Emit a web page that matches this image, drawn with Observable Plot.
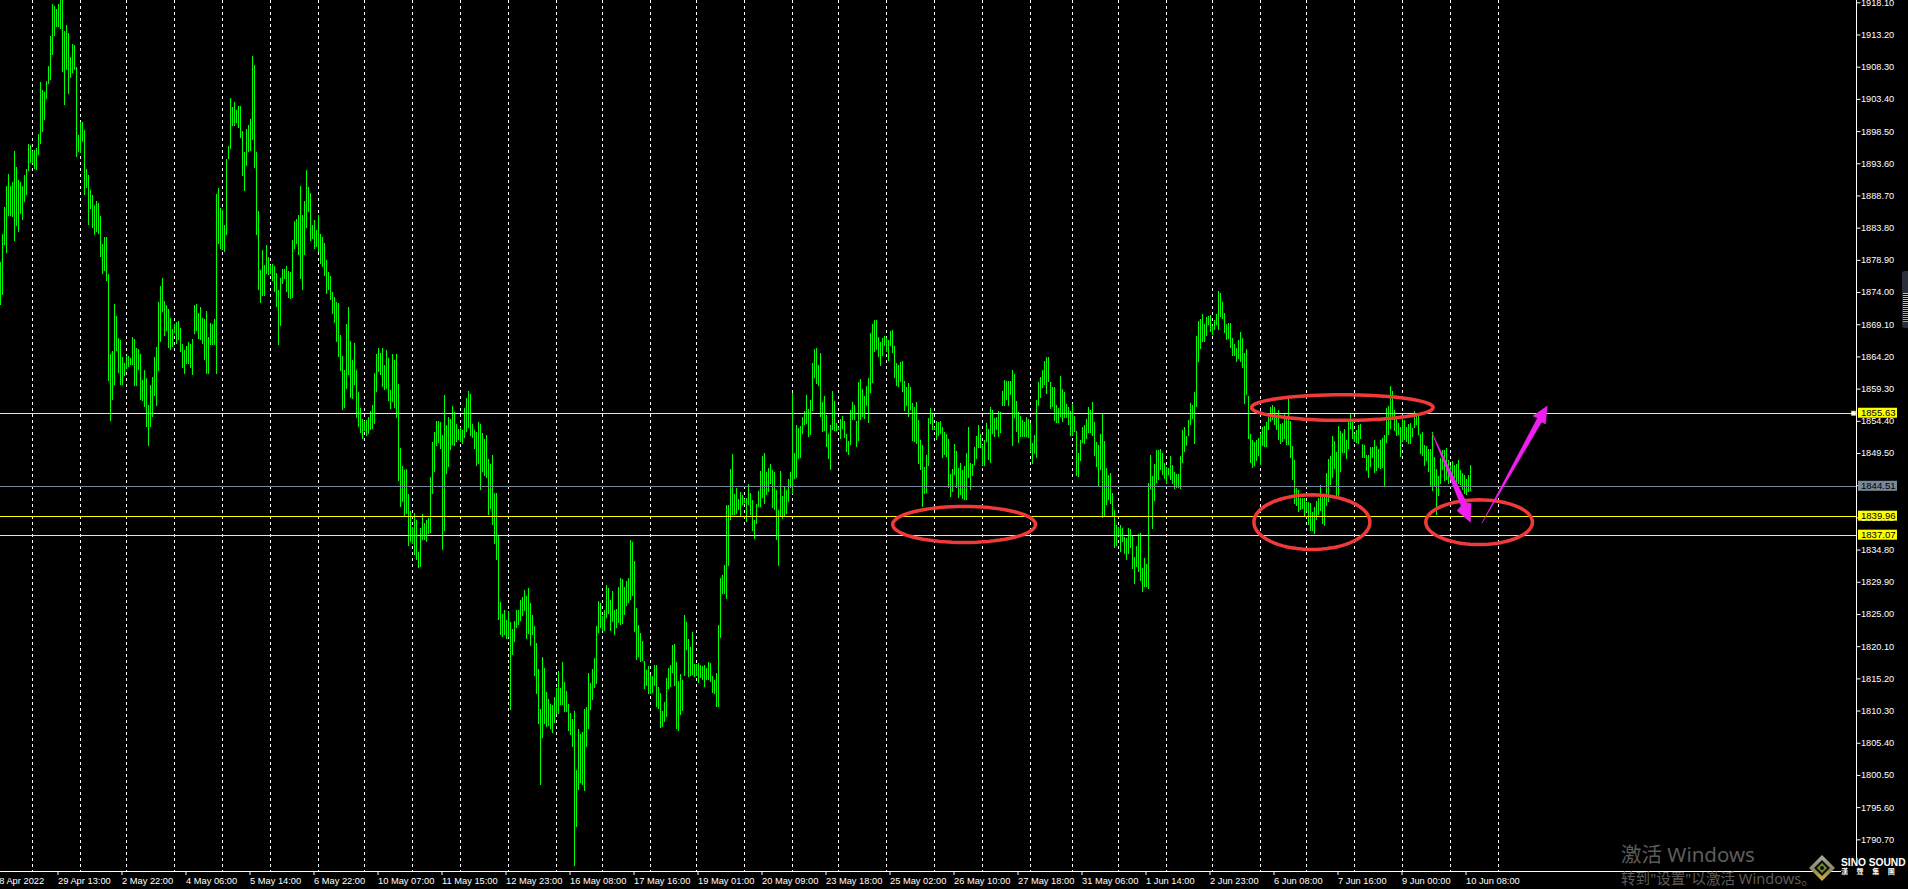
<!DOCTYPE html>
<html><head><meta charset="utf-8">
<script src="https://cdn.jsdelivr.net/npm/d3@7"></script>
<script src="https://cdn.jsdelivr.net/npm/@observablehq/plot@0.6"></script>
<style>
html,body{margin:0;padding:0;background:#000;overflow:hidden;width:1908px;height:889px}
#wrap{position:relative;width:1908px;height:889px}
#wrap svg{display:block}
.wm{position:absolute;left:1621px;color:#5c5c5c;font-family:"Noto Sans","Noto Sans CJK SC",sans-serif;white-space:nowrap;line-height:1}
.logo{position:absolute;color:#fff;font-family:"Liberation Sans",sans-serif;font-weight:700;white-space:nowrap;line-height:1;background:#000}
#panel{position:absolute;left:1902px;top:271px;width:6px;height:57px;background:#2a2e3a;border-radius:3px 0 0 3px}
#panel i{position:absolute;left:1px;right:0;top:22px;height:29px;background:repeating-linear-gradient(to bottom,transparent 0 1px,#000 1px 2px),linear-gradient(to bottom,#d8cf62 0 45%,#7fc9a0 60%,#4fc7c0 100%)}
</style></head><body><div id="wrap"></div>
<script>
const highs=[1878.6,1882.9,1887.0,1890.1,1892.0,1890.1,1890.8,1895.5,1893.1,1891.1,1890.8,1890.1,1891.8,1892.7,1896.6,1896.4,1895.4,1895.6,1895.9,1898.1,1906.0,1904.8,1904.5,1906.1,1908.4,1913.0,1917.9,1917.5,1917.1,1917.8,1918.4,1918.4,1913.7,1914.6,1913.5,1909.7,1911.8,1911.6,1908.2,1897.9,1899.9,1899.9,1898.7,1892.7,1891.8,1889.5,1888.8,1887.2,1887.9,1887.6,
1885.6,1881.3,1882.4,1882.4,1876.7,1864.6,1865.0,1872.2,1870.4,1867.0,1866.7,1864.1,1863.2,1864.3,1864.3,1863.9,1867.2,1866.9,1865.5,1865.3,1864.6,1860.6,1862.1,1860.9,1856.8,1859.9,1861.1,1864.1,1865.6,1872.5,1874.9,1876.1,1872.6,1872.0,1871.4,1870.0,1868.4,1869.1,1869.4,1869.6,1868.5,1866.1,1865.2,1865.8,1866.4,1866.1,1866.9,1872.0,1872.2,1870.8,
1871.7,1870.0,1869.9,1871.1,1867.2,1869.3,1869.1,1869.9,1888.9,1889.8,1886.8,1886.5,1884.2,1894.3,1896.2,1903.5,1902.2,1902.9,1901.7,1902.3,1902.3,1898.5,1895.3,1898.8,1899.4,1900.3,1909.9,1908.6,1895.3,1886.3,1877.4,1880.4,1878.1,1881.2,1879.3,1878.1,1878.3,1878.0,1876.9,1874.3,1876.1,1877.5,1877.5,1878.0,1877.2,1877.1,1881.9,1884.8,1885.1,1885.7,
1890.1,1885.7,1887.9,1892.6,1890.0,1889.1,1884.2,1885.0,1883.4,1885.7,1882.8,1882.4,1881.5,1878.9,1877.1,1876.5,1874.0,1873.2,1872.5,1872.3,1867.5,1864.3,1862.1,1869.1,1871.7,1866.6,1863.7,1866.3,1862.1,1858.8,1856.4,1854.7,1854.4,1854.5,1855.0,1855.9,1856.8,1861.7,1864.6,1865.5,1864.7,1865.5,1862.9,1865.2,1864.0,1859.1,1864.6,1863.7,1864.6,1860.0,
1850.3,1847.5,1846.9,1847.1,1843.3,1840.7,1838.2,1840.4,1839.3,1834.4,1838.1,1840.2,1838.9,1839.3,1839.6,1845.9,1851.2,1852.7,1854.4,1854.4,1854.2,1852.2,1858.3,1853.8,1855.0,1854.7,1856.7,1855.7,1853.9,1853.1,1853.5,1853.0,1856.4,1857.9,1859.0,1858.5,1853.9,1853.0,1852.7,1854.2,1853.9,1852.6,1851.6,1852.2,1848.6,1847.8,1849.2,1843.4,1843.4,1837.0,
1826.8,1825.0,1825.6,1824.1,1825.5,1823.8,1822.7,1823.9,1825.6,1825.6,1827.1,1827.6,1828.7,1827.7,1829.0,1826.7,1824.9,1823.2,1820.6,1816.6,1810.6,1818.5,1816.8,1813.1,1812.1,1811.3,1811.2,1812.4,1813.7,1816.3,1813.7,1817.7,1814.7,1813.3,1811.3,1810.0,1809.0,1810.2,1801.3,1807.5,1806.7,1807.0,1810.6,1810.9,1816.0,1814.5,1816.6,1818.3,1823.2,1827.0,
1826.7,1824.7,1825.6,1829.4,1829.0,1827.1,1828.5,1825.6,1825.8,1829.1,1830.5,1830.3,1829.1,1830.0,1830.5,1836.3,1836.0,1833.1,1825.9,1823.3,1822.1,1820.9,1817.8,1816.5,1817.1,1815.7,1815.6,1817.2,1817.2,1813.9,1813.0,1810.2,1811.6,1815.3,1816.8,1817.2,1820.3,1820.4,1817.7,1814.8,1815.9,1815.0,1824.9,1823.8,1821.2,1820.0,1822.3,1817.4,1817.4,1817.5,
1817.2,1817.1,1817.2,1816.8,1817.7,1817.5,1815.6,1815.0,1816.0,1823.3,1830.5,1830.9,1832.5,1841.6,1841.6,1847.1,1849.4,1843.3,1844.2,1842.5,1843.6,1843.1,1842.5,1842.6,1844.8,1843.4,1842.4,1839.3,1841.7,1843.7,1846.8,1849.0,1849.5,1846.6,1847.2,1847.8,1846.9,1846.6,1843.9,1840.8,1846.8,1843.0,1844.3,1843.9,1845.5,1846.6,1858.6,1849.5,1853.8,1853.3,
1853.6,1855.0,1855.9,1858.3,1856.2,1857.6,1863.2,1865.3,1865.5,1862.9,1864.7,1857.3,1858.2,1855.3,1852.4,1853.8,1858.9,1857.4,1854.1,1853.5,1854.7,1855.1,1854.4,1852.4,1851.4,1856.1,1857.3,1856.8,1854.4,1860.3,1860.8,1859.2,1858.2,1859.7,1860.9,1867.8,1869.1,1869.8,1869.8,1867.2,1866.4,1867.0,1867.3,1867.0,1866.7,1868.1,1868.2,1865.8,1863.2,1862.9,
1863.3,1863.5,1860.5,1859.5,1860.2,1859.5,1857.1,1856.5,1857.3,1854.5,1851.5,1850.7,1847.4,1849.2,1854.8,1856.4,1855.4,1853.5,1854.4,1854.2,1854.4,1853.5,1852.7,1852.4,1851.6,1846.3,1847.1,1850.9,1849.8,1847.2,1848.0,1846.9,1847.5,1849.5,1853.5,1848.0,1847.8,1850.4,1852.1,1853.8,1852.4,1850.7,1851.5,1854.1,1853.1,1856.5,1856.0,1854.8,1855.0,1855.9,
1855.8,1858.9,1860.6,1860.5,1860.5,1860.5,1862.1,1861.5,1857.4,1855.7,1855.1,1854.5,1854.2,1855.0,1854.7,1854.1,1851.0,1852.2,1857.6,1860.3,1861.1,1862.1,1863.5,1864.1,1864.1,1860.3,1859.5,1859.5,1856.8,1856.4,1861.2,1859.2,1858.8,1856.9,1856.5,1855.9,1856.9,1855.1,1852.8,1849.5,1851.5,1853.5,1853.8,1854.7,1856.5,1856.0,1857.3,1854.2,1851.2,1850.7,
1852.4,1855.6,1851.3,1847.2,1846.2,1846.5,1843.4,1840.8,1838.5,1838.2,1838.5,1838.1,1836.7,1836.6,1838.1,1837.9,1836.9,1833.7,1835.3,1837.2,1837.3,1832.0,1833.5,1832.6,1844.9,1849.2,1846.0,1847.8,1850.0,1850.0,1850.1,1849.5,1848.0,1847.4,1847.2,1849.0,1847.7,1846.6,1846.3,1846.3,1849.0,1853.0,1853.5,1852.1,1854.5,1857.1,1856.8,1858.8,1867.3,1869.6,
1869.9,1870.7,1869.1,1870.2,1870.4,1870.5,1868.8,1869.7,1870.7,1874.2,1873.9,1872.5,1870.8,1869.1,1869.3,1869.3,1867.0,1866.1,1865.5,1866.7,1867.9,1867.0,1864.7,1865.3,1858.2,1852.4,1851.5,1851.2,1851.5,1851.8,1852.5,1853.5,1853.6,1854.2,1855.0,1856.5,1856.8,1856.5,1855.3,1856.0,1853.9,1854.1,1855.6,1855.0,1857.7,1854.4,1850.6,1848.4,1844.2,1843.9,
1842.7,1842.7,1842.7,1842.0,1842.0,1841.9,1840.5,1841.3,1842.2,1842.7,1844.6,1843.1,1842.8,1846.5,1848.6,1849.0,1852.1,1851.3,1849.7,1853.6,1852.9,1852.5,1853.2,1851.5,1854.7,1855.6,1854.7,1852.4,1853.0,1853.8,1853.9,1850.9,1850.7,1849.2,1849.2,1850.4,1850.4,1851.5,1850.6,1850.1,1851.5,1851.8,1852.2,1856.3,1856.6,1859.7,1859.0,1856.0,1854.7,1854.1,
1853.5,1854.7,1854.5,1853.5,1853.9,1854.1,1853.3,1855.9,1855.6,1855.1,1852.4,1852.7,1850.7,1850.6,1850.1,1850.1,1852.7,1848.9,1847.1,1846.0,1848.7,1850.0,1850.0,1850.3,1848.4,1847.7,1848.3,1847.7,1847.8,1848.4,1846.9,1846.5,1846.2,1845.5,1846.2,1847.7];
const lows=[1872.0,1873.6,1881.2,1880.0,1885.5,1885.5,1885.4,1881.8,1884.0,1883.2,1885.9,1884.9,1887.7,1888.8,1892.4,1893.7,1893.6,1892.7,1892.6,1894.9,1896.6,1898.4,1900.2,1903.4,1905.6,1906.2,1910.1,1912.9,1914.3,1914.4,1914.0,1907.5,1902.5,1907.8,1904.1,1906.6,1907.3,1907.8,1894.5,1895.3,1895.1,1896.8,1888.8,1889.8,1884.2,1886.6,1883.8,1882.7,1883.1,1882.9,
1879.4,1876.7,1877.2,1875.7,1860.5,1854.4,1857.6,1859.9,1865.1,1861.7,1859.9,1859.9,1861.2,1862.3,1862.6,1862.9,1862.9,1859.7,1859.7,1862.1,1857.6,1857.4,1856.5,1853.5,1850.5,1853.5,1855.0,1858.2,1856.7,1862.0,1866.4,1871.0,1867.3,1868.1,1865.5,1865.2,1865.7,1867.7,1866.1,1866.7,1864.9,1862.4,1861.5,1863.1,1863.1,1862.4,1861.4,1867.6,1868.1,1866.9,
1866.7,1866.1,1863.7,1861.5,1861.5,1866.0,1866.0,1866.0,1861.5,1881.3,1880.6,1880.4,1880.1,1882.7,1894.3,1895.8,1899.3,1899.3,1899.7,1899.0,1897.4,1891.7,1889.4,1893.2,1895.3,1895.5,1897.1,1892.9,1882.7,1874.3,1872.3,1873.4,1873.4,1876.7,1876.6,1876.7,1875.7,1874.0,1871.7,1866.0,1868.8,1875.2,1876.0,1874.0,1873.1,1872.9,1873.1,1880.6,1881.3,1879.6,
1876.0,1874.3,1879.6,1883.8,1886.2,1881.8,1882.1,1880.6,1880.9,1880.1,1878.3,1877.8,1876.5,1873.7,1874.3,1872.8,1870.7,1869.3,1866.4,1864.1,1862.0,1856.1,1856.4,1859.3,1861.4,1857.9,1857.7,1859.9,1854.8,1853.5,1852.6,1851.6,1852.9,1852.1,1852.4,1853.0,1853.2,1853.9,1858.8,1861.8,1861.4,1859.6,1859.1,1859.3,1857.4,1856.2,1857.3,1856.4,1854.8,1845.3,
1841.3,1842.0,1839.8,1840.2,1835.4,1836.0,1835.7,1834.0,1833.2,1832.0,1832.2,1836.3,1836.3,1836.0,1837.2,1837.3,1843.3,1846.6,1850.6,1851.0,1850.1,1834.7,1837.6,1846.3,1847.4,1850.0,1850.7,1850.6,1851.2,1851.5,1851.2,1850.9,1851.8,1852.7,1853.3,1852.1,1851.8,1850.1,1847.5,1847.8,1843.9,1846.6,1846.0,1845.7,1840.1,1841.0,1838.5,1835.7,1833.2,1824.1,
1821.8,1821.5,1821.8,1821.2,1821.5,1810.4,1818.8,1820.7,1822.9,1823.3,1823.9,1824.7,1825.5,1821.2,1822.0,1820.1,1821.8,1815.6,1812.8,1808.3,1799.0,1806.1,1808.3,1807.8,1808.0,1807.5,1806.9,1808.4,1809.8,1809.8,1811.2,1811.2,1810.1,1810.1,1807.2,1806.6,1804.8,1786.6,1792.6,1798.2,1799.3,1799.0,1798.1,1804.8,1807.5,1810.4,1811.9,1813.7,1814.4,1822.1,
1822.9,1822.4,1822.4,1824.4,1825.0,1822.4,1823.8,1821.8,1822.9,1823.6,1823.3,1823.5,1824.9,1826.2,1826.7,1827.1,1827.7,1822.3,1818.0,1818.5,1817.7,1817.8,1813.6,1814.0,1812.8,1812.8,1813.0,1814.0,1810.9,1810.5,1807.6,1807.8,1808.6,1809.3,1813.6,1813.9,1816.0,1814.0,1807.5,1807.2,1809.6,1810.2,1815.6,1819.5,1815.4,1815.6,1815.7,1815.4,1815.6,1814.5,
1815.3,1815.0,1813.9,1815.0,1815.0,1814.7,1813.0,1812.8,1810.9,1810.9,1821.4,1828.0,1828.0,1827.3,1832.3,1839.3,1840.1,1840.1,1840.2,1840.8,1839.8,1841.6,1841.9,1839.0,1841.6,1840.1,1837.6,1836.4,1838.7,1841.3,1841.3,1842.6,1841.7,1843.1,1843.6,1844.8,1841.1,1840.8,1836.3,1832.3,1839.9,1839.5,1839.8,1840.2,1842.1,1844.2,1843.3,1845.5,1845.7,1848.6,
1848.7,1852.4,1853.8,1853.9,1851.9,1852.2,1855.9,1860.9,1860.0,1859.7,1855.0,1852.7,1852.9,1850.4,1848.6,1846.9,1853.0,1852.9,1852.9,1853.0,1851.6,1853.1,1851.8,1849.7,1849.2,1850.7,1854.5,1854.5,1850.4,1851.4,1854.5,1855.0,1854.7,1856.7,1854.1,1858.6,1860.2,1864.9,1865.2,1864.1,1862.7,1864.3,1865.8,1864.9,1863.5,1865.8,1864.7,1860.9,1859.7,1859.5,
1860.3,1858.8,1855.9,1856.7,1855.0,1856.0,1851.3,1851.2,1850.9,1847.8,1846.9,1841.3,1843.3,1843.4,1847.5,1853.9,1853.0,1853.0,1851.5,1852.1,1852.4,1848.7,1849.2,1848.9,1844.2,1842.8,1843.6,1846.2,1844.2,1842.7,1843.1,1842.5,1842.4,1842.4,1845.7,1843.9,1846.0,1847.7,1848.6,1850.3,1850.3,1847.5,1847.5,1851.2,1848.4,1848.0,1852.4,1851.9,1853.0,1851.9,
1852.5,1856.7,1856.7,1857.6,1856.7,1858.3,1850.5,1854.8,1852.7,1851.0,1851.9,1851.9,1851.9,1851.9,1851.8,1849.7,1847.8,1849.3,1848.7,1856.7,1857.9,1859.4,1859.9,1858.5,1860.3,1856.2,1856.5,1854.4,1854.1,1854.1,1855.0,1854.2,1854.8,1854.8,1853.8,1852.1,1852.1,1852.7,1846.0,1845.9,1848.3,1851.0,1850.9,1851.6,1852.5,1852.5,1852.1,1849.0,1847.4,1844.5,
1846.9,1839.6,1839.9,1841.6,1842.4,1841.7,1839.8,1835.0,1835.3,1837.0,1834.4,1836.0,1834.1,1833.2,1834.1,1835.0,1831.8,1829.6,1832.2,1831.4,1830.0,1828.4,1829.1,1829.1,1828.8,1844.0,1837.9,1842.2,1844.9,1845.4,1846.9,1846.2,1845.5,1844.8,1846.2,1845.4,1844.8,1844.0,1844.2,1844.2,1844.0,1848.0,1849.7,1850.6,1852.1,1853.8,1854.7,1850.9,1856.5,1863.4,
1865.3,1866.4,1866.4,1867.3,1869.0,1867.9,1867.5,1868.2,1869.0,1868.2,1870.2,1869.9,1867.8,1866.7,1866.8,1865.5,1864.3,1864.3,1863.4,1863.8,1863.4,1862.4,1857.0,1858.3,1851.6,1848.0,1847.2,1847.5,1848.3,1849.0,1847.7,1850.5,1850.4,1850.4,1853.0,1854.2,1854.5,1853.8,1853.0,1851.5,1850.9,1851.2,1851.6,1850.7,1850.7,1848.7,1845.4,1841.7,1841.4,1840.5,
1840.8,1841.0,1839.9,1840.7,1838.5,1837.6,1837.6,1837.2,1839.3,1840.1,1840.7,1838.7,1838.4,1841.4,1842.0,1844.6,1845.7,1847.1,1842.8,1843.0,1846.6,1849.5,1849.5,1848.6,1850.1,1853.2,1851.6,1851.1,1851.0,1850.9,1851.6,1848.7,1848.7,1846.8,1845.7,1847.4,1848.7,1846.5,1846.8,1847.2,1847.1,1847.2,1844.5,1851.0,1852.2,1853.2,1854.5,1852.9,1852.1,1852.2,
1848.9,1851.2,1851.5,1851.2,1850.9,1850.9,1852.0,1853.3,1853.8,1852.2,1849.3,1849.0,1847.5,1848.3,1846.6,1844.5,1843.7,1844.5,1840.1,1843.0,1844.8,1846.9,1845.2,1845.4,1844.8,1845.4,1844.8,1845.6,1844.8,1844.8,1844.6,1843.9,1843.3,1843.1,1843.6,1843.7];
const dayBreaks=[16,40,63,87,111,135,159,182,206,230,254,278,301,325,348,372,396,419,443,467,491,515,536,559,583,606,630,653,677,701,725,749];
const timeTicks=[-3,29,61,93,125,157,189,221,253,285,317,349,381,413,445,477,509,541,573,605,637,669,701,733];
const timeLabels=["28 Apr 2022","29 Apr 13:00","2 May 22:00","4 May 06:00","5 May 14:00","6 May 22:00","10 May 07:00","11 May 15:00","12 May 23:00","16 May 08:00","17 May 16:00","19 May 01:00","20 May 09:00","23 May 18:00","25 May 02:00","26 May 10:00","27 May 18:00","31 May 06:00","1 Jun 14:00","2 Jun 23:00","6 Jun 08:00","7 Jun 16:00","9 Jun 00:00","10 Jun 08:00"];
const priceTicks=[1918.1,1913.2,1908.3,1903.4,1898.5,1893.6,1888.7,1883.8,1878.9,1874.0,1869.1,1864.2,1859.3,1854.4,1849.5,1844.6,1839.7,1834.8,1829.9,1825.0,1820.1,1815.2,1810.3,1805.4,1800.5,1795.6,1790.7];
const levelPrices=[1855.63,1839.96,1837.07];
const lastPrice=[1844.51];
const ellipseCenterBar=[481.8,670.9,655.7,739.3];
const ellipseCenterPrice=[1838.7,1856.5,1839.05,1839.05];
const ellipseBarRadius=[35.7,45.4,29,26.65];
const ellipsePriceRadius=[2.74,1.95,4.16,3.4];
const arrowDownBar=[715.8,733,735.3,735,728.3,730.3,715.8];
const arrowDownPrice=[1852.6,1842.0,1841.9,1839.05,1840.8,1841.5,1852.6];
const arrowUpBar=[740.8,770.6,772.5,773.4,766.2,768.5,740.8];
const arrowUpPrice=[1838.95,1854.3,1854.0,1856.75,1855.2,1854.9,1838.95];

const bars=highs.map((h,i)=>({i,high:h,low:lows[i]}));
const ellipsePts=ellipseCenterBar.flatMap((c,e)=>d3.range(0,73).map(k=>({e,
  x:c+ellipseBarRadius[e]*Math.cos(k/72*2*Math.PI),
  y:ellipseCenterPrice[e]+ellipsePriceRadius[e]*Math.sin(k/72*2*Math.PI)})));
const poly=(xs,ys)=>xs.map((x,k)=>({x,y:ys[k]}));
const labelBarL=929, labelBarR=948.5, halfH=0.76;
const boxes=[...levelPrices.map(p=>({p,c:"#ffff00"})),...lastPrice.map(p=>({p,c:"#778899"}))];
const FONT='"Liberation Sans",sans-serif';

const chart=Plot.plot({
  width:1908,height:889,marginLeft:0,marginTop:0,marginRight:52.5,marginBottom:18,
  x:{type:"linear",domain:[0,927.75]},
  y:{type:"linear",domain:[1785.88,1918.45]},
  style:{background:"#000",color:"#fff",fontFamily:FONT,fontSize:"9.3px",overflow:"visible"},
  marks:[
    Plot.ruleX(dayBreaks,{x:d=>d,stroke:"#fff",strokeWidth:1,strokeDasharray:"3,3",shapeRendering:"crispEdges"}),
    Plot.ruleX(bars,{x:"i",y1:"low",y2:"high",stroke:"#00ff00",strokeWidth:1,shapeRendering:"crispEdges"}),
    Plot.ruleY(levelPrices,{y:d=>d,stroke:"#ffff00",strokeWidth:1,shapeRendering:"crispEdges"}),
    Plot.ruleY(lastPrice,{y:d=>d,stroke:"#778899",strokeWidth:1,shapeRendering:"crispEdges"}),
    Plot.ruleX([927.75],{stroke:"#fff",strokeWidth:1,shapeRendering:"crispEdges"}),
    Plot.ruleY([1785.88],{stroke:"#fff",strokeWidth:1,shapeRendering:"crispEdges"}),
    Plot.axisX({ticks:timeTicks,tickFormat:d=>timeLabels[timeTicks.indexOf(d)],anchor:"bottom",tickSize:4,tickPadding:1.5,textAnchor:"start",stroke:"#fff",fill:"#fff",label:null,fontSize:9.3,dx:-0.5}),
    Plot.axisY({ticks:priceTicks,tickFormat:d=>d.toFixed(2),anchor:"right",tickSize:4,tickPadding:1,stroke:"#fff",fill:"#fff",label:null,fontSize:9.2}),
    Plot.rect(boxes,{x1:()=>labelBarL,x2:()=>labelBarR,y1:d=>d.p-halfH,y2:d=>d.p+halfH,fill:d=>d.c}),
    Plot.text(boxes,{x:()=>labelBarL+1.2,y:"p",text:d=>d.p.toFixed(2),fill:"#000",textAnchor:"start",fontSize:9.6}),
    Plot.dot([1855.63],{x:()=>926.5,y:d=>d,symbol:"square",r:2.4,fill:"#fff",stroke:"#ffff00",strokeWidth:0.5}),
    Plot.line(ellipsePts,{x:"x",y:"y",z:"e",stroke:"#f03a3a",strokeWidth:3.5,curve:"linear"}),
    Plot.line(poly(arrowDownBar,arrowDownPrice),{x:"x",y:"y",fill:"#ee20ee",stroke:"#ee20ee",strokeWidth:0.5}),
    Plot.line(poly(arrowUpBar,arrowUpPrice),{x:"x",y:"y",fill:"#ee20ee",stroke:"#ee20ee",strokeWidth:0.5})
  ]
});
const wrap=document.getElementById("wrap");
wrap.appendChild(chart);
wrap.insertAdjacentHTML("beforeend",`
<div id="panel"><i></i></div>
<div class="wm" style="top:844px;font-size:20.5px">激活 Windows</div>
<div class="wm" style="top:871px;font-size:14.6px">转到"设置"以激活 Windows。</div>
<svg style="position:absolute;left:1808px;top:854px" width="28" height="28" viewBox="0 0 28 28">
<defs><linearGradient id="g" x1="0" y1="0" x2="0" y2="1"><stop offset="0" stop-color="#aaa"/><stop offset="0.55" stop-color="#8c8a60"/><stop offset="1" stop-color="#d8b030"/></linearGradient></defs>
<path d="M14 1 L27 14 L14 27 L1 14 Z" fill="url(#g)"/><path d="M14 6 L22 14 L14 22 L6 14 Z" fill="#111"/><path d="M14 9 L19 14 L14 19 L9 14 Z" fill="#6f8f1f"/><circle cx="14" cy="14" r="2" fill="#111"/></svg>
<div class="logo" style="left:1841px;top:858px;width:58px;font-size:10.2px">SINO SOUND</div>
<div class="logo" style="left:1841px;top:868px;width:58px;font-size:7px;word-spacing:7px;font-family:'Noto Sans CJK TC'">漢 聲 集 團</div>`);
</script></body></html>
